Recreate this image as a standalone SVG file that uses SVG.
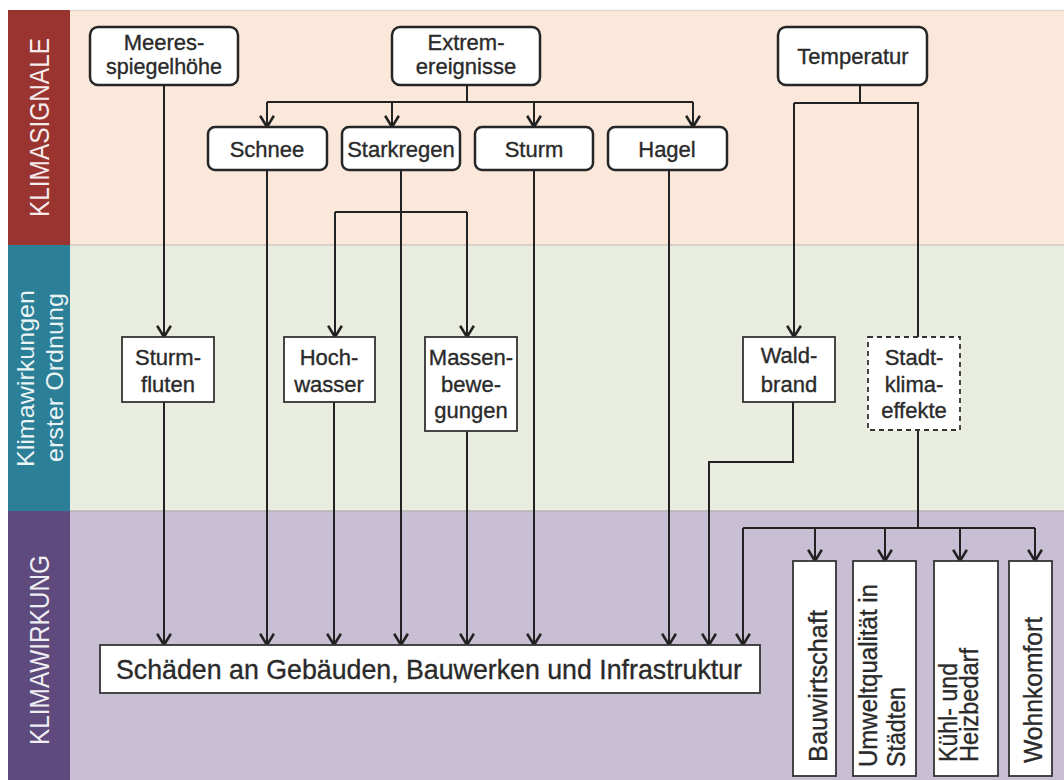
<svg xmlns="http://www.w3.org/2000/svg" width="1064" height="780" viewBox="0 0 1064 780">
<defs>
<marker id="arr" markerUnits="userSpaceOnUse" markerWidth="20" markerHeight="20" viewBox="-12 -8 14 16" refX="0" refY="0" orient="auto">
<path d="M-9,-5.5 L0,0 L-9,5.5" fill="none" stroke="#222" stroke-width="2"/>
</marker>
<style>
.lbl{font-family:"Liberation Sans",Arial,sans-serif;font-size:22px;fill:#2a2a2a;stroke:#2a2a2a;stroke-width:0.35px;text-anchor:middle}
.vt{font-family:"Liberation Sans",Arial,sans-serif;font-size:26px;fill:#2a2a2a;stroke:#2a2a2a;stroke-width:0.35px}
.side{font-family:"Liberation Sans",Arial,sans-serif;fill:#ffffff;fill-opacity:0.92}
.rbox{fill:#fff;stroke:#262626;stroke-width:2.5}
.sbox{fill:#fff;stroke:#333;stroke-width:1.8}
.dbox{fill:#fff;stroke:#333;stroke-width:1.8;stroke-dasharray:5 4}
.con{fill:none;stroke:#222;stroke-width:2}
.arw{marker-end:url(#arr)}
</style>
</defs>
<rect x="0" y="0" width="1064" height="780" fill="#ffffff"/>
<rect x="8" y="10" width="1056" height="235" fill="#fbe8da"/>
<rect x="8" y="245" width="1056" height="266" fill="#e9eddf"/>
<rect x="8" y="511" width="1056" height="269" fill="#c9bfd4"/>
<line x1="70" y1="10.5" x2="1064" y2="10.5" stroke="#e2d8d0" stroke-width="1.5"/>
<line x1="70" y1="245" x2="1064" y2="245" stroke="#cfc8bf" stroke-width="1.5"/>
<line x1="70" y1="511" x2="1064" y2="511" stroke="#b9b3b5" stroke-width="1.5"/>
<rect x="8" y="10" width="62" height="235" fill="#9a3431"/>
<rect x="8" y="245" width="62" height="266" fill="#2b7f97"/>
<rect x="8" y="511" width="62" height="269" fill="#5e4a7c"/>
<text class="side" font-size="27" transform="translate(49,217) rotate(-90)" textLength="179" lengthAdjust="spacingAndGlyphs">KLIMASIGNALE</text>
<text class="side" font-size="24" transform="translate(34,467) rotate(-90)" textLength="177" lengthAdjust="spacingAndGlyphs">Klimawirkungen</text>
<text class="side" font-size="24" transform="translate(63,462) rotate(-90)" textLength="169" lengthAdjust="spacingAndGlyphs">erster Ordnung</text>
<text class="side" font-size="27" transform="translate(49,745) rotate(-90)" textLength="190" lengthAdjust="spacingAndGlyphs">KLIMAWIRKUNG</text>

<g id="connectors">
<path class="con arw" d="M164,85 V337"/>
<path class="con arw" d="M164,402 V645"/>
<path class="con" d="M467,85 V102 M267,102 H693"/>
<path class="con arw" d="M267,102 V127"/>
<path class="con arw" d="M392,102 V127"/>
<path class="con arw" d="M534,102 V127"/>
<path class="con arw" d="M693,102 V127"/>
<path class="con arw" d="M267,170 V645"/>
<path class="con arw" d="M401,170 V645"/>
<path class="con" d="M335,212 H467"/>
<path class="con arw" d="M335,212 V337"/>
<path class="con arw" d="M467,212 V337"/>
<path class="con arw" d="M334,402 V645"/>
<path class="con arw" d="M467,431 V645"/>
<path class="con arw" d="M534,170 V645"/>
<path class="con arw" d="M669,170 V645"/>
<path class="con" d="M860,85 V103 M794,103 H918 V337"/>
<path class="con arw" d="M794,103 V337"/>
<path class="con arw" d="M793,402 V462 H709 V645"/>
<path class="con" d="M918,430 V528 M743,528 H1035"/>
<path class="con arw" d="M743,528 V645"/>
<path class="con arw" d="M815,528 V561"/>
<path class="con arw" d="M885,528 V561"/>
<path class="con arw" d="M960,528 V561"/>
<path class="con arw" d="M1035,528 V561"/>
</g>

<g id="meeresspiegelhoehe"><rect class="rbox" x="90" y="27" width="148" height="58" rx="8"/><text class="lbl" x="164" y="50" font-size="19.5">Meeres-</text><text class="lbl" x="164" y="73.5" font-size="19.5" textLength="116" lengthAdjust="spacingAndGlyphs">spiegelhöhe</text></g>
<g id="extremereignisse"><rect class="rbox" x="392" y="27" width="148" height="58" rx="8"/><text class="lbl" x="466" y="50" font-size="19.5">Extrem-</text><text class="lbl" x="466" y="73.5" font-size="19.5">ereignisse</text></g>
<g id="temperatur"><rect class="rbox" x="778" y="27" width="149" height="58" rx="8"/><text class="lbl" x="853" y="64">Temperatur</text></g>
<g id="schnee"><rect class="rbox" x="208" y="127" width="119" height="43" rx="7"/><text class="lbl" x="267" y="157">Schnee</text></g>
<g id="starkregen"><rect class="rbox" x="342" y="127" width="118" height="43" rx="7"/><text class="lbl" x="401" y="157">Starkregen</text></g>
<g id="sturm"><rect class="rbox" x="475" y="127" width="118" height="43" rx="7"/><text class="lbl" x="534" y="157">Sturm</text></g>
<g id="hagel"><rect class="rbox" x="608" y="127" width="119" height="43" rx="7"/><text class="lbl" x="667" y="157">Hagel</text></g>

<g id="sturmfluten"><rect class="sbox" x="122" y="337" width="92" height="65"/><text class="lbl" x="168" y="365">Sturm-</text><text class="lbl" x="168" y="392">fluten</text></g>
<g id="hochwasser"><rect class="sbox" x="284" y="337" width="91" height="65"/><text class="lbl" x="329" y="365">Hoch-</text><text class="lbl" x="329" y="392">wasser</text></g>
<g id="massenbewegungen"><rect class="sbox" x="425" y="337" width="92" height="94"/><text class="lbl" x="471" y="365">Massen-</text><text class="lbl" x="471" y="392">bewe-</text><text class="lbl" x="471" y="418">gungen</text></g>
<g id="waldbrand"><rect class="sbox" x="743" y="337" width="92" height="65"/><text class="lbl" x="789" y="363">Wald-</text><text class="lbl" x="789" y="392">brand</text></g>
<g id="stadtklimaeffekte"><rect class="dbox" x="868" y="337" width="92" height="93"/><text class="lbl" x="914" y="365">Stadt-</text><text class="lbl" x="914" y="392">klima-</text><text class="lbl" x="914" y="418">effekte</text></g>

<g id="schaeden"><rect class="sbox" x="100" y="645" width="660" height="48"/><text x="116" y="679" font-family="'Liberation Sans',Arial,sans-serif" font-size="28" fill="#2a2a2a" stroke="#2a2a2a" stroke-width="0.35" textLength="626" lengthAdjust="spacingAndGlyphs">Schäden an Gebäuden, Bauwerken und Infrastruktur</text></g>

<g id="bauwirtschaft"><rect class="sbox" x="793" y="561" width="43" height="215"/><text class="vt" transform="translate(827,762) rotate(-90)" textLength="152" lengthAdjust="spacingAndGlyphs">Bauwirtschaft</text></g>
<g id="umweltqualitaet"><rect class="sbox" x="853" y="561" width="63" height="215"/><text class="vt" transform="translate(877,767) rotate(-90)" textLength="183" lengthAdjust="spacingAndGlyphs">Umweltqualität in</text><text class="vt" transform="translate(905,767) rotate(-90)" textLength="80" lengthAdjust="spacingAndGlyphs">Städten</text></g>
<g id="kuehlheizbedarf"><rect class="sbox" x="934" y="561" width="64" height="215"/><text class="vt" transform="translate(957,762) rotate(-90)" textLength="99" lengthAdjust="spacingAndGlyphs">Kühl- und</text><text class="vt" transform="translate(978,762) rotate(-90)" textLength="114" lengthAdjust="spacingAndGlyphs">Heizbedarf</text></g>
<g id="wohnkomfort"><rect class="sbox" x="1009" y="561" width="43" height="215"/><text class="vt" transform="translate(1042,763) rotate(-90)" textLength="146" lengthAdjust="spacingAndGlyphs">Wohnkomfort</text></g>
</svg>
